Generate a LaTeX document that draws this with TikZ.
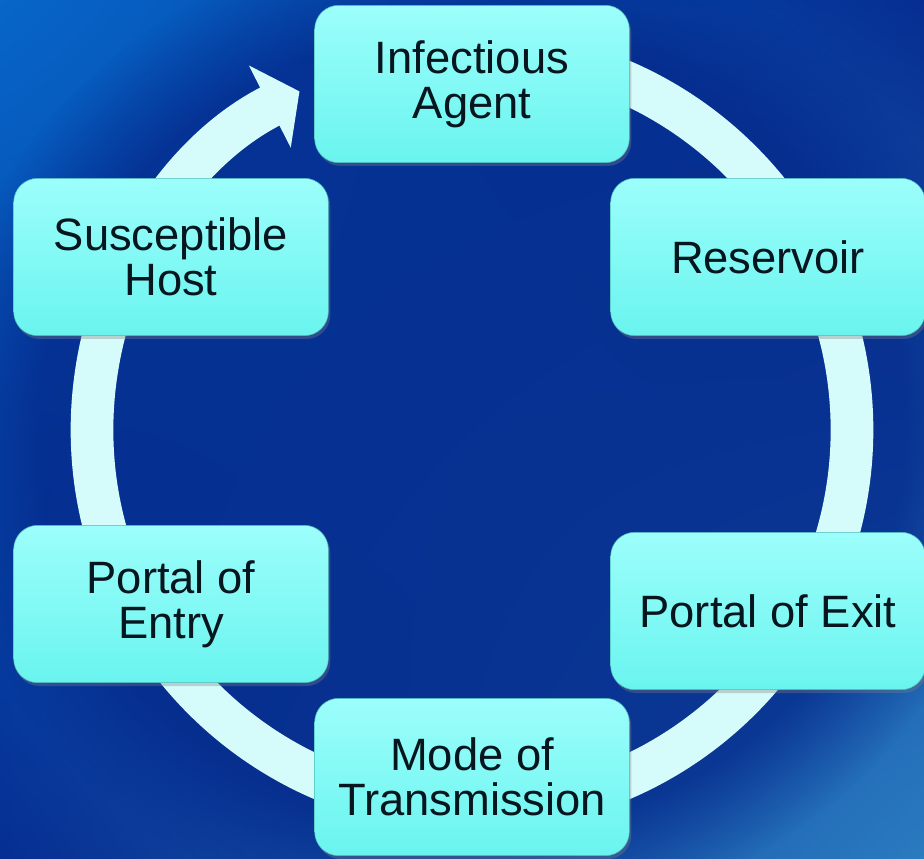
\documentclass[tikz,border=0pt]{standalone}
\usepackage{fontspec}
\setmainfont{Liberation Sans}
\usepackage{tikz}
\usetikzlibrary{arrows.meta,shadows,fadings,shadings}
\usepackage{xcolor}

\definecolor{bgLight}{HTML}{0766C9}
\definecolor{bgNavy}{HTML}{062E92}
\definecolor{bgDeep}{HTML}{04288A}
\definecolor{bgPale}{HTML}{2A7BC0}
\definecolor{ringCol}{HTML}{D6FBFB}
\definecolor{boxTop}{HTML}{9CFEFB}
\definecolor{boxBot}{HTML}{6AF4EF}
\definecolor{boxEdge}{HTML}{4FB9BB}
\definecolor{txtCol}{HTML}{06161F}

\tikzset{
	stage/.style={rectangle,rounded corners=18pt,draw=boxEdge,thin,
		top color=boxTop,bottom color=boxBot,
		drop shadow={shadow xshift=1.5pt,shadow yshift=-2.5pt,opacity=0.35},
		minimum width=236pt,minimum height=118pt,align=center,
		text=txtCol,font=\fontsize{34pt}{34pt}\selectfont},
	cycle/.style={line width=32pt,ringCol,-{Triangle[length=25pt,width=68pt]}}
}

\begin{document}
\begin{tikzpicture}[x=0.75pt,y=0.75pt]
\useasboundingbox (0,0) rectangle (924,858);
\clip (0,0) rectangle (924,858);
\shade[upper left=bgLight,upper right=bgNavy,lower left=bgNavy,lower right=bgPale]
	(0,0) rectangle (924,858);
\coordinate (hub) at (472,428);
\fill[bgDeep,fill opacity=0.75,path fading=circle with fuzzy edge 20 percent]
	(hub) ellipse (540 and 500);

\draw[cycle] (hub) ++(90:380) arc[start angle=90,end angle=-243,radius=380];

\begin{scope}[every node/.style={stage}]
	\node (agent) at (472,774) {Infectious\\Agent};
	\node (reservoir) at (768,601) {Reservoir};
	\node (exit) at (768,247) {Portal of Exit};
	\node (mode) at (472,81) {Mode of\\Transmission};
	\node (entry) at (171,254) {Portal of\\Entry};
	\node (host) at (171,601) {Susceptible\\Host};
\end{scope}
\end{tikzpicture}
\end{document}
